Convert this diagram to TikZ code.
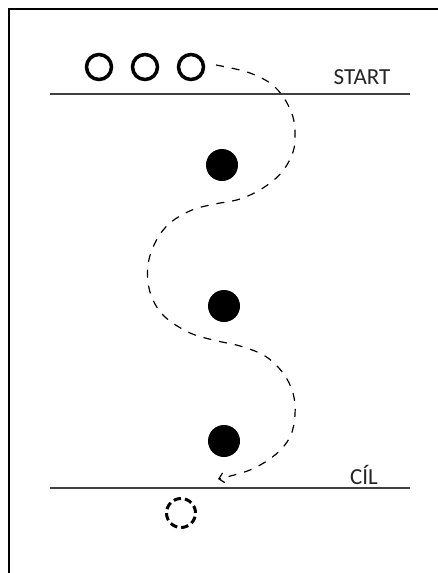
\documentclass[tikz,border=0pt]{standalone}
\usepackage{fontspec}
\setmainfont{Carlito}
\usetikzlibrary{arrows.meta}
\tikzset{
  openball/.style={circle,draw=black,line width=3.5pt,minimum size=25pt,inner sep=0pt},
  fullball/.style={circle,fill=black,minimum size=32pt,inner sep=0pt},
  dashball/.style={circle,draw=black,line width=3pt,dash pattern=on 7.4pt off 4pt,minimum size=29pt,inner sep=0pt},
  lane/.style={draw=black!75,line width=1.8pt},
  label/.style={font=\fontsize{23}{26}\selectfont,text=black!85,inner sep=0pt},
  route/.style={line width=1.2pt,dash pattern=on 8pt off 8pt},
}
\begin{document}
\begin{tikzpicture}[x=1pt,y=-1pt]
\useasboundingbox (0,0) rectangle (438,573);
% frame
\draw[line width=2pt] (9,573) -- (9,9) -- (438,9);
% lines
\coordinate (s1) at (50,94); \coordinate (s2) at (410,94);
\coordinate (f1) at (50,488); \coordinate (f2) at (410,488);
\draw[lane] (s1) -- (s2);
\draw[lane] (f1) -- (f2);
\node[label] (start) at (362,77) {START};
\node[label] (cil) at (364,475) {CÍL};
% balls
\node[openball] (o1) at (99,67) {};
\node[openball] (o2) at (145,67) {};
\node[openball] (o3) at (191,67) {};
\node[fullball] (b1) at (222,165) {};
\node[fullball] (b2) at (224,306) {};
\node[fullball] (b3) at (224,441) {};
\node[dashball] (d1) at (181,513) {};
% route
\draw[route,-{Straight Barb[length=5pt,width=10pt,line width=1.2pt]}] plot[smooth,tension=0.6] coordinates {
(216,65) (247,72) (270,83) (284,98) (293,117) (295,135) (293,152) (282,172) (263,188) (240,199) (215,204) (192,210) (170,223) (156,241) (148,265) (150,292) (163,315) (188,332) (213,340) (240,346) (265,356) (283,373) (293,393) (295,415) (290,437) (275,455) (250,470) (218,479)};
\end{tikzpicture}
\end{document}
